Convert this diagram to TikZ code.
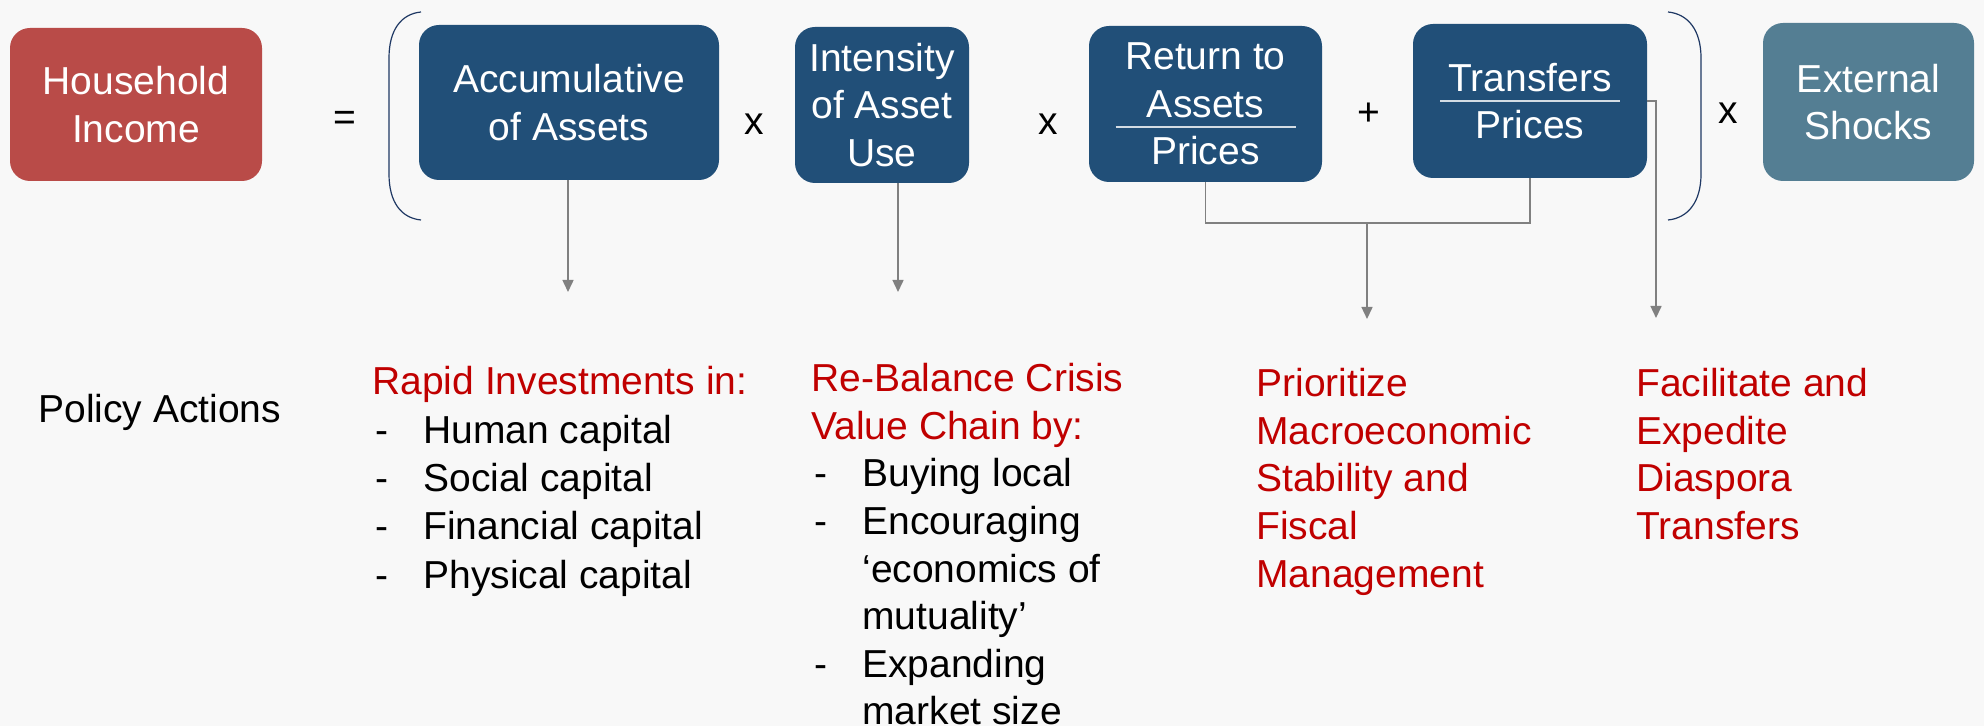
\documentclass[tikz,border=0pt]{standalone}
\usepackage{xcolor}
\usepackage{fontspec}
\setmainfont{Liberation Sans}
\usetikzlibrary{arrows.meta,calc}

\definecolor{hhred}{RGB}{185,75,72}
\definecolor{termblue}{RGB}{33,79,120}
\definecolor{shockblue}{RGB}{84,126,147}
\definecolor{actred}{RGB}{192,0,0}
\definecolor{linkgray}{RGB}{128,128,128}
\definecolor{parenblue}{RGB}{31,56,100}
\definecolor{paper}{RGB}{248,248,248}

\newcommand{\itm}[1]{\makebox[25.5pt][l]{\hspace{1.5pt}-}#1}
\newcommand{\cnt}[1]{\hspace*{25.5pt}#1}

\begin{document}
\begin{tikzpicture}[x=0.5pt,y=-0.5pt,
  every node/.style={font=\fontsize{19.5}{23.8}\selectfont},
  term/.style={rounded corners=10pt, text=white, align=center, inner sep=0pt},
  op/.style={inner sep=0pt},
  plan/.style={anchor=north west, align=left, inner sep=0pt},
  link/.style={draw=linkgray, line width=0.75pt, -{Triangle[width=5.5pt,length=6pt]}},
  joinline/.style={draw=linkgray, line width=0.75pt},
  paren/.style={draw=parenblue, line width=0.6pt}]

%Background
\fill[paper] (0,0) rectangle (1984,726);

%Shape: Income box
\node[term, fill=hhred, minimum width=126pt, minimum height=76.5pt] (house) at (136,104.5) {Household\\Income};
%Shape: Asset boxes
\node[term, fill=termblue, minimum width=150pt, minimum height=77.5pt] (accum) at (569,102.5) {Accumulative\\of Assets};
\node[term, fill=termblue, minimum width=87pt, minimum height=78pt] (intens) at (882,105) {Intensity\\of Asset\\Use};
\node[term, fill=termblue, minimum width=116.5pt, minimum height=78pt] (ret) at (1205.5,104) {Return to\\Assets\\Prices};
\node[term, fill=termblue, minimum width=117pt, minimum height=77pt] (trans) at (1530,101) {Transfers\\Prices};
%Shape: Shock box
\node[term, fill=shockblue, minimum width=105.5pt, minimum height=79pt] (shock) at (1868.5,102) {External\\Shocks};

%Fraction bars
\draw[white!80!termblue, line width=0.6pt] ($(ret.center)+(-90,23)$) -- ($(ret.center)+(90,23)$);
\draw[white!80!termblue, line width=0.6pt] ($(trans.center)+(-90,0)$) -- ($(trans.center)+(90,0)$);

% Operators
\node[op] (eq) at (345,121) {=};
\node[op] (times1) at (754,124) {x};
\node[op] (times2) at (1048,124) {x};
\node[op] (plus) at (1369,114) {+};
\node[op] (times3) at (1728,113) {x};

%Shape: Brackets
\draw[paren] (421,12) .. controls (401,14) and (389,30) .. (389,58) -- (389,174) .. controls (389,202) and (401,218) .. (421,220);
\draw[paren] (1668,12) .. controls (1688,14) and (1701,30) .. (1701,58) -- (1701,174) .. controls (1701,202) and (1688,218) .. (1668,220);

%Arrow ends
\coordinate (accumEnd) at (568,292);
\coordinate (intensEnd) at (898,292);
\coordinate (joint) at (1367,223);
\coordinate (macroEnd) at (1367,319);
\coordinate (diasporaEnd) at (1656,318);

%Straight Lines
\draw[link] (accum.south -| accumEnd) -- (accumEnd);
\draw[link] (intens.south -| intensEnd) -- (intensEnd);
\draw[joinline] (ret.south) |- (joint) -| (trans.south);
\draw[link] (joint) -- (macroEnd);
\draw[link] (trans.east) -| (diasporaEnd);

% Text Node
\node[anchor=west, inner sep=0pt] (policy) at (38,412) {Policy Actions};
% Text Node
\node[plan, font=\fontsize{19.5}{24.2}\selectfont] (invest) at (372,366) {\textcolor{actred}{Rapid Investments in:}\\
  \itm{Human capital}\\
  \itm{Social capital}\\
  \itm{Financial capital}\\
  \itm{Physical capital}};
% Text Node
\node[plan] (rebal) at (811,363) {\textcolor{actred}{Re-Balance Crisis}\\
  \textcolor{actred}{Value Chain by:}\\
  \itm{Buying local}\\
  \itm{Encouraging}\\
  \cnt{‘economics of}\\
  \cnt{mutuality’}\\
  \itm{Expanding}\\
  \cnt{market size}};
% Text Node
\node[plan, text=actred] (macro) at (1256,368) {Prioritize\\Macroeconomic\\Stability and\\Fiscal\\Management};
% Text Node
\node[plan, text=actred] (diaspora) at (1636,368) {Facilitate and\\Expedite\\Diaspora\\Transfers};

\end{tikzpicture}
\end{document}
